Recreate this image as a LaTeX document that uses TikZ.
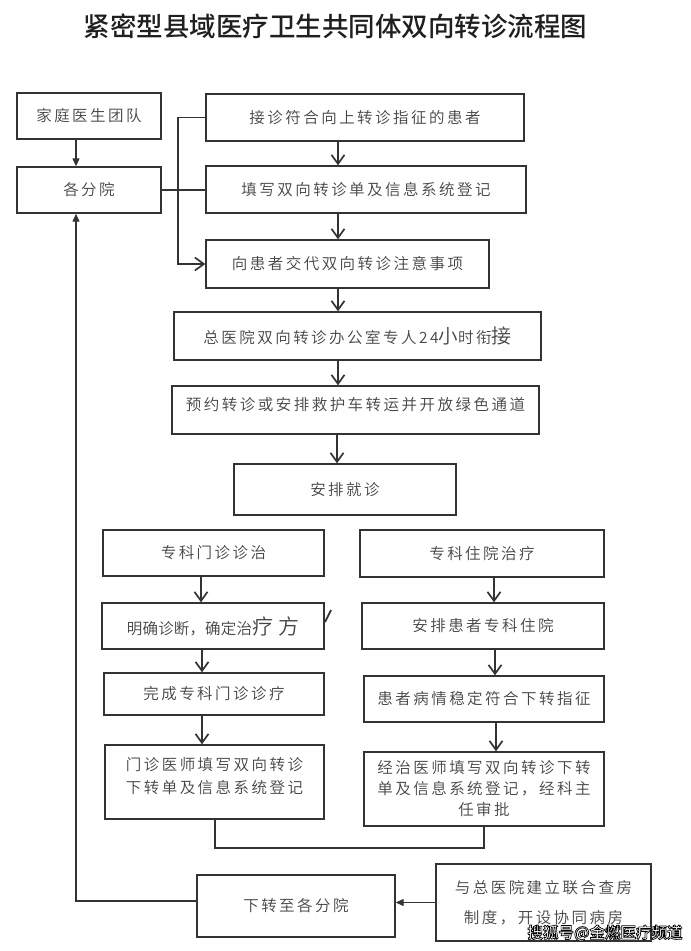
\documentclass[tikz,border=0pt]{standalone}
\usepackage{fontspec}
\setmainfont{Noto Sans CJK SC DemiLight}[LetterSpace=16]
\newfontfamily\titlefont{Noto Sans CJK SC Medium}
\newfontfamily\wmfont{Noto Sans CJK SC Bold}
\usetikzlibrary{arrows.meta}
\definecolor{ink}{HTML}{333333}
\definecolor{txt}{HTML}{444444}
\tikzset{
  box/.style={draw=ink, line width=1.4pt, inner sep=0pt, text=txt,
    font=\fontsize{15.5}{23}\selectfont, align=center},
  conn/.style={draw=ink, line width=1.3pt},
  vee/.style={conn, -{Straight Barb[length=9pt,width=13pt,line width=1.7pt]}},
  tri/.style={conn, -{Triangle[length=8pt,width=7pt]}},
  wm/.style={inner sep=0pt, font=\wmfont\fontsize{15.5}{18}\selectfont},
}
\begin{document}
\begin{tikzpicture}[x=1pt,y=-1pt]
\useasboundingbox (0,0) rectangle (691,951);
\fill[white] (0,0) rectangle (691,951);

\node[inner sep=0pt, text=black!88, font=\titlefont\fontsize{26.5}{30}\selectfont] (title) at (335.5,26) {紧密型县域医疗卫生共同体双向转诊流程图};

% boxes
\node[box, minimum width=144pt, minimum height=46pt] (jt) at (89,116) {家庭医生团队};
\node[box, minimum width=144pt, minimum height=46pt] (gf) at (89,190) {各分院};
\node[box, minimum width=318pt, minimum height=47pt] (jz) at (365,117.5) {接诊符合向上转诊指征的患者};
\node[box, minimum width=320pt, minimum height=47pt] (tx) at (366,189.5) {填写双向转诊单及信息系统登记};
\node[box, minimum width=283pt, minimum height=48pt] (xh) at (347.5,264) {向患者交代双向转诊注意事项};
\node[box, minimum width=367pt, minimum height=48pt] (zy) at (357.5,336) {总医院双向转诊办公室专人24{\fontsize{19.5}{23}\selectfont 小}时衔{\fontsize{20}{23}\selectfont 接}};
\node[box, minimum width=367pt, minimum height=48pt] (yy) at (355.5,410) {预约转诊或安排救护车转运并开放绿色通道\\[-11pt]{}};
\node[box, minimum width=222pt, minimum height=51pt] (ap) at (345,489.5) {安排就诊};
\node[box, minimum width=221pt, minimum height=46pt] (mz) at (213.5,553) {专科门诊诊治};
\node[box, minimum width=244pt, minimum height=47pt] (zl) at (482,553.5) {专科住院治疗};
\node[box, minimum width=222pt, minimum height=46pt] (mq) at (213,626) {\addfontfeature{LetterSpace=1}明确诊断，确定治{\fontsize{21}{23}\selectfont 疗\hspace{5pt}方}};
\node[box, minimum width=242pt, minimum height=46pt] (ah) at (483,626) {安排患者专科住院};
\node[box, minimum width=220pt, minimum height=42pt] (wc) at (214,694) {完成专科门诊诊疗};
\node[box, minimum width=240pt, minimum height=46pt] (hz) at (484,699) {患者病情稳定符合下转指征};
\node[box, minimum width=219pt, minimum height=74pt] (mt) at (214.5,782) {门诊医师填写双向转诊\\下转单及信息系统登记\\[-9pt]{}};
\node[box, minimum width=240pt, minimum height=74pt, font=\fontsize{15.5}{21}\selectfont] (jy) at (484,789) {经治医师填写双向转诊下转\\单及信息系统登记，经科主\\任审批};
\node[box, minimum width=198pt, minimum height=62pt] (xz) at (296,906) {下转至各分院};
\node[box, minimum width=215pt, minimum height=77pt, font=\fontsize{15.5}{30}\selectfont] (yz) at (543.5,902.5) {与总医院建立联合查房\\制度，开设协同病房};

% column coordinates
\coordinate (xa) at (76,0);
\coordinate (xm) at (338,0);
\coordinate (xb) at (178,0);
\coordinate (xl1) at (201,0);
\coordinate (xl2) at (202,0);
\coordinate (xr1) at (494,0);
\coordinate (xr2) at (495,0);
\coordinate (xr3) at (496,0);
\coordinate (xj1) at (215,0);
\coordinate (xj2) at (484,0);
\coordinate (yj) at (0,848);

% connectors
\draw[tri] (xa |- jt.south) -- (xa |- gf.north);
\draw[vee] (xm |- jz.south) -- (xm |- tx.north);
\draw[vee] (xm |- tx.south) -- (xm |- xh.north);
\draw[vee] (xm |- xh.south) -- (xm |- zy.north);
\draw[vee] (xm |- zy.south) -- (xm |- yy.north);
\draw[vee] ([xshift=-1pt]xm |- yy.south) -- ([xshift=-1pt]xm |- ap.north);
\draw[vee] (jz.west) -- (xb |- jz.west) -- (xb |- xh.west) -- (xh.west);
\draw[conn, line width=2.4pt] (gf.east) -- (gf.east -| tx.west);

\draw[vee] (xl1 |- mz.south) -- (xl1 |- mq.north);
\draw[vee] (xl2 |- mq.south) -- (xl2 |- wc.north);
\draw[vee] (xl2 |- wc.south) -- (xl2 |- mt.north);
\draw[vee] (xr1 |- zl.south) -- (xr1 |- ah.north);
\draw[vee] (xr2 |- ah.south) -- (xr2 |- hz.north);
\draw[vee] (xr3 |- hz.south) -- (xr3 |- jy.north);

\draw[conn] (xj1 |- mt.south) |- (xj2 |- yj) -- (xj2 |- jy.south);

\draw[tri] ([yshift=5pt]xz.west) -| (xa |- gf.south);
\draw[tri] (yz.west) -- (yz.west -| xz.east);

% stray stroke beside the box
\draw[conn, line width=1.8pt] (331,610) -- (325,622);

% watermark: white letters with a black outline
\node[wm, text=white] (wm) at (605,933) {\special{pdf:literal direct 0 G 2 Tr 0.7 w}搜狐号@金燃医疗频道\special{pdf:literal direct 0 Tr}};
\end{tikzpicture}
\end{document}
